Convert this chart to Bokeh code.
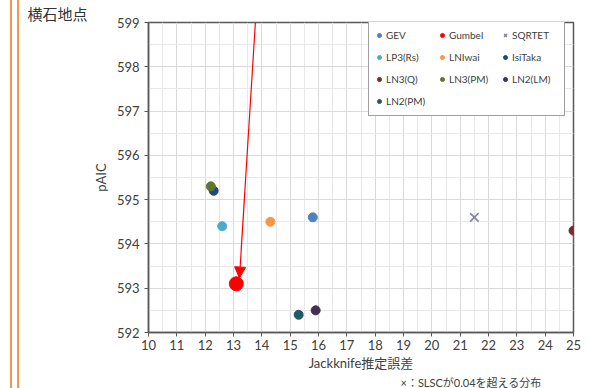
from bokeh.plotting import figure
from bokeh.models import (Legend, LegendItem, FixedTicker, Arrow, NormalHead,
                          Title, Range1d)
from bokeh.embed import file_html
from bokeh.resources import INLINE

# ---- data ----
names = ["GEV", "Gumbel", "SQRTET", "LP3(Rs)", "LNIwai", "IsiTaka",
         "LN3(Q)", "LN3(PM)", "LN2(LM)", "LN2(PM)"]
jackknife = [15.8, 13.1, 21.5, 12.6, 14.3, 12.3, 25.0, 12.2, 15.9, 15.3]
paic = [594.6, 593.1, 594.6, 594.4, 594.5, 595.2, 594.3, 595.3, 592.5, 592.4]
x_ticks = list(range(10, 26))
y_ticks = list(range(592, 600))
x_minor = [10.5 + i for i in range(15)]
y_minor = [592.5 + i for i in range(7)]

# ---- styles ----
colors = ["#4f81bd", "#ff0000", "#8080a0", "#4bacc6", "#f79646", "#1f497d",
          "#772c2a", "#5f7530", "#403152", "#215968"]
markers = ["circle", "circle", "x", "circle", "circle", "circle",
           "circle", "circle", "circle", "circle"]
sizes = [9, 14, 12, 9, 9, 9, 9, 9, 9, 9]

TICK_FONT = "Lato"
JP_FONT = "Noto Sans CJK JP"
# Lato metrics keep the side panels compact; CJK glyphs fall back to a CJK font
MIX_FONT = "Lato, 'Noto Sans CJK JP'"

p = figure(width=589, height=388, output_backend="svg", toolbar_location=None,
           x_range=Range1d(10, 25), y_range=Range1d(592, 599),
           min_border_left=148, min_border_right=16, min_border_top=22,
           min_border_bottom=55)
p.background_fill_color = "white"
p.border_fill_color = None
p.styles = {"background": "linear-gradient(to right, #ffffff 10px, #f79646 10px, "
                          "#f79646 12px, #ffffff 12px, #ffffff 17px, #f79646 17px, "
                          "#f79646 19px, #ffffff 19px)"}
p.outline_line_color = "#595959"
p.outline_line_width = 1.5

p.title = Title(text="横石地点", align="left", offset=-121, standoff=0,
                text_font=MIX_FONT, text_font_size="15px",
                text_font_style="normal", text_color="#333333")

p.xaxis.ticker = FixedTicker(ticks=x_ticks, minor_ticks=x_minor)
p.yaxis.ticker = FixedTicker(ticks=y_ticks, minor_ticks=y_minor)
for ax in (p.xaxis, p.yaxis):
    ax.axis_line_color = "#595959"
    ax.axis_line_width = 1.5
    ax.major_tick_line_color = "#595959"
    ax.major_tick_in = 0
    ax.major_tick_out = 4
    ax.minor_tick_in = 0
    ax.minor_tick_out = 0
    ax.major_label_text_font = TICK_FONT
    ax.major_label_text_font_size = "13px"
    ax.major_label_text_color = "#404040"
    ax.axis_label_text_font = MIX_FONT
    ax.axis_label_text_font_size = "13px"
    ax.axis_label_text_font_style = "normal"
    ax.axis_label_text_color = "#404040"
p.xaxis.axis_label = "Jackknife推定誤差"
p.xaxis.major_label_standoff = 3
p.xaxis.axis_label_standoff = 2
p.yaxis.axis_label = "pAIC"
p.yaxis.axis_label_standoff = 5

p.add_layout(Title(text="×：SLSCが0.04を超える分布", align="left", offset=252,
                   standoff=0, text_font=MIX_FONT, text_font_size="11px",
                   text_font_style="normal", text_color="#404040"), "below")

for g in (p.xgrid, p.ygrid):
    g.grid_line_color = "#d9d9d9"
    g.grid_line_width = 1
    g.minor_grid_line_color = "#e8e8e8"
    g.minor_grid_line_width = 1

items = []
for i, nm in enumerate(names):
    if markers[i] == "x":
        r = p.scatter([jackknife[i]], [paic[i]], marker="x", size=sizes[i],
                      line_color=colors[i], line_width=1.5)
    else:
        r = p.scatter([jackknife[i]], [paic[i]], marker="circle", size=sizes[i],
                      fill_color=colors[i], line_color=colors[i])
    items.append(LegendItem(label=nm, renderers=[r]))

legend = Legend(items=items, orientation="horizontal", ncols=3,
                location=(220, 216),
                label_text_font=TICK_FONT, label_text_font_size="10px",
                label_text_color="#404040",
                glyph_width=10, glyph_height=18, label_height=18,
                label_width=47, label_standoff=2, spacing=4, padding=5,
                border_line_color="#404040", border_line_width=1.5,
                background_fill_color="white", background_fill_alpha=1)
p.add_layout(legend, "center")

# arrow pointing to Gumbel
gi = names.index("Gumbel")
p.add_layout(Arrow(end=NormalHead(size=11, fill_color="#ff0000", line_color="#ff0000"),
                   x_start=13.82, y_start=599.5,
                   x_end=jackknife[gi] + 0.11, y_end=paic[gi] + 0.13,
                   line_color="#ff0000", line_width=1.2))

open("out.html", "w").write(file_html(p, INLINE))
